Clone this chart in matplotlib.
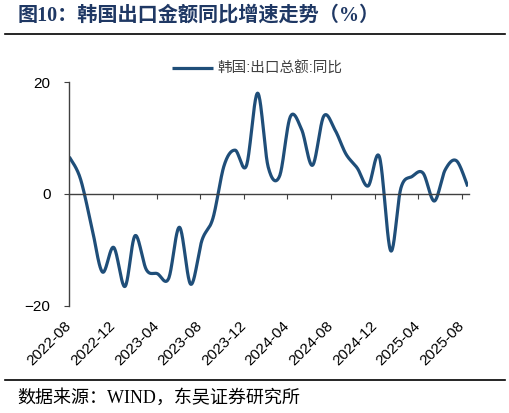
import numpy as np
import pandas as pd
import matplotlib
matplotlib.use("Agg")
import matplotlib.pyplot as plt
import matplotlib.dates as mdates
from matplotlib.lines import Line2D

plt.rcParams['font.family'] = ['Liberation Sans', 'Noto Sans CJK SC']

# 月度数据（月末日期）
months = pd.date_range('2022-08-31', '2025-08-31', freq='ME')
export_yoy = [6.6, 2.8, -5.7, -14.0, -9.6,
              -16.6, -7.5, -13.6, -14.3, -15.2, -6.0, -16.2, -8.3, -4.4, 5.1, 7.8, 5.0,
              18.0, 4.8, 3.1, 13.8, 11.5, 5.1, 13.9, 11.4, 7.1, 4.6, 1.4, 6.6,
              -10.2, 1.0, 3.1, 3.7, -1.3, 4.3, 5.9, 1.3]
series_label = '韩国:出口总额:同比'
tick_dates = pd.date_range('2022-08-31', periods=10, freq='120D')
y_ticks = [-20, 0, 20]

LINE_COLOR = '#1F4E79'
AXIS_COLOR = '#404040'


def smooth_curve(xs, ys, n=24):
    # catmull-rom, like excel's smoothed line
    xs = np.asarray(xs, dtype=float)
    ys = np.asarray(ys, dtype=float)
    px = np.concatenate([[xs[0]], xs, [xs[-1]]])
    py = np.concatenate([[ys[0]], ys, [ys[-1]]])
    t = np.linspace(0, 1, n, endpoint=False)
    out_x, out_y = [], []
    for i in range(1, len(px) - 2):
        for p, out in ((px, out_x), (py, out_y)):
            p0, p1, p2, p3 = p[i - 1], p[i], p[i + 1], p[i + 2]
            out.extend(0.5 * (2 * p1 + (-p0 + p2) * t
                              + (2 * p0 - 5 * p1 + 4 * p2 - p3) * t ** 2
                              + (-p0 + 3 * p1 - 3 * p2 + p3) * t ** 3))
    out_x.append(xs[-1])
    out_y.append(ys[-1])
    return np.array(out_x), np.array(out_y)


fig = plt.figure(figsize=(5.1, 4.13), dpi=100)
ax = fig.add_axes([69.3 / 510, 1 - 305.5 / 413, (468.5 - 69.3) / 510, (305.5 - 82) / 413])

xnum = mdates.date2num(months)
sx, sy = smooth_curve(xnum, export_yoy)
ax.plot(sx, sy, color=LINE_COLOR, lw=2.3, solid_capstyle='butt', label=series_label)

ax.set_xlim(xnum[0], xnum[-1] + 2)
ax.set_ylim(-20, 20)
ax.set_yticks(y_ticks)

tick_num = mdates.date2num(tick_dates)
ax.set_xticks(tick_num)
ax.tick_params(axis='x', direction='out', length=3.5, color=AXIS_COLOR, labelbottom=False)
ax.tick_params(axis='y', direction='out', length=3.5, color=AXIS_COLOR, pad=10,
               labelsize=11, labelcolor='black')

for side in ('top', 'right'):
    ax.spines[side].set_visible(False)
ax.spines['bottom'].set_position(('data', 0))
for side in ('left', 'bottom'):
    ax.spines[side].set_color(AXIS_COLOR)
    ax.spines[side].set_linewidth(1.0)

# date labels sit under the plot, not on the zero line
sec = ax.secondary_xaxis('bottom')
sec.set_xticks(tick_num)
sec.xaxis.set_major_formatter(mdates.DateFormatter('%Y-%m'))
sec.tick_params(axis='x', length=0, pad=13, labelsize=11)
sec.spines['bottom'].set_visible(False)
plt.setp(sec.get_xticklabels(), rotation=45, ha='right', va='center',
         rotation_mode='anchor')

fig.legend(loc='center', bbox_to_anchor=(0.505, 1 - 69 / 413), frameon=False,
           fontsize=10.5, handlelength=2.8, handletextpad=0.3, labelcolor='#404040')

fig.text(18 / 510, 1 - 16 / 413, '图10：韩国出口金额同比增速走势（%）',
         fontsize=14.5, fontweight='bold', color='#1F3864', va='center',
         family=['Liberation Serif', 'Noto Sans CJK SC'])
fig.add_artist(Line2D([5 / 510, 505 / 510], [1 - 34 / 413] * 2, color='black', lw=1.2))
fig.add_artist(Line2D([5 / 510, 505 / 510], [1 - 379.5 / 413] * 2, color='black', lw=1.2))
fig.text(17 / 510, 1 - 398 / 413, '数据来源：WIND，东吴证券研究所',
         fontsize=13, color='black', va='center',
         family=['Liberation Serif', 'Noto Sans CJK SC'])

fig.savefig('out.png', dpi=100)
